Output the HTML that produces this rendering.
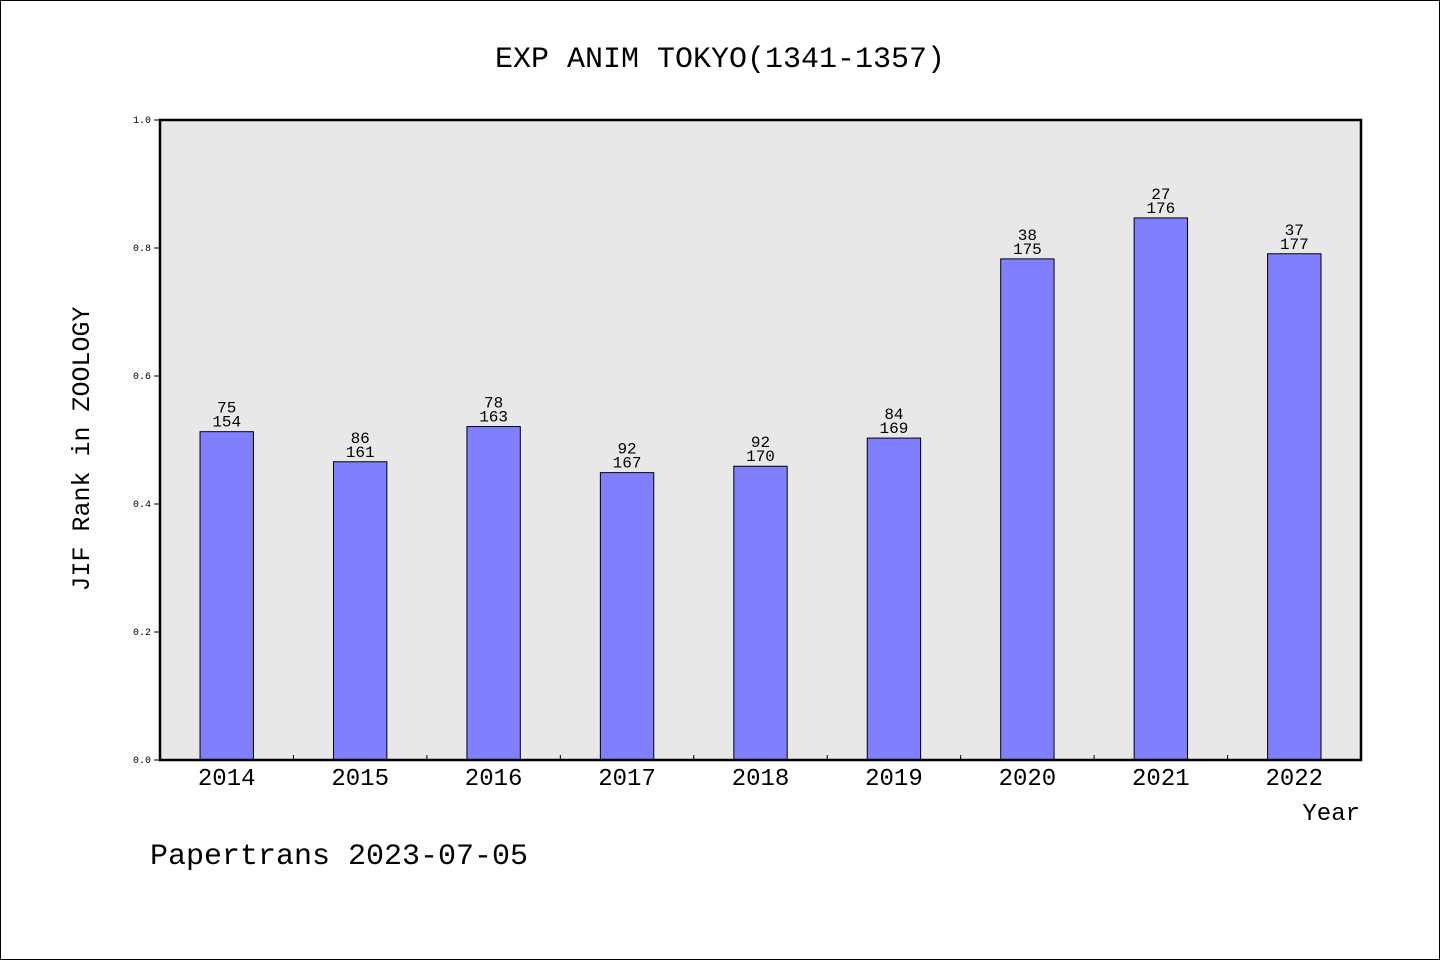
<!DOCTYPE html>
<html><head><meta charset="utf-8"><style>
html,body{margin:0;padding:0;background:#fff}
svg{display:block;font-family:"Liberation Mono","DejaVu Sans Mono",monospace}
</style></head><body>
<svg id="chart" width="1440" height="960" viewBox="0 0 1440 960" xmlns="http://www.w3.org/2000/svg">
<rect x="0.5" y="0.5" width="1439" height="959" fill="#fff" stroke="#000"/>
<text x="720" y="67" font-size="30" text-anchor="middle">EXP ANIM TOKYO(1341-1357)</text>
<rect x="160" y="120" width="1201" height="640" fill="#e8e8e8"/>
<g id="marks"></g>
<rect x="160" y="120" width="1201" height="640" fill="none" stroke="#000" stroke-width="2.5"/>
<text transform="translate(89,449) rotate(-90)" font-size="25" text-anchor="middle">JIF Rank in ZOOLOGY</text>
<text x="1360" y="820" font-size="24" text-anchor="end">Year</text>
<text x="150" y="864" font-size="30">Papertrans 2023-07-05</text>
</svg>
<script>
const categories = ["2014","2015","2016","2017","2018","2019","2020","2021","2022"];
const values = [0.513,0.466,0.521,0.449,0.459,0.503,0.783,0.847,0.791];
const ranks = [75,86,78,92,92,84,38,27,37];
const totals = [154,161,163,167,170,169,175,176,177];
const yTicks = [0.0,0.2,0.4,0.6,0.8,1.0];

const L=160,R=1361,T=120,B=760;
const band=(R-L)/categories.length;
const xc=i=>L+band*(i+0.5);
const y=v=>B-(v-0)/(1-0)*(B-T);
const NS="http://www.w3.org/2000/svg";
const g=document.getElementById('marks');
function mk(tag,attrs,txt){const e=document.createElementNS(NS,tag);for(const k in attrs)e.setAttribute(k,attrs[k]);if(txt!==undefined)e.textContent=txt;g.appendChild(e);return e;}

yTicks.forEach(t=>{
  const tk=mk('line',{x1:L-6,x2:L,y1:y(t),y2:y(t),stroke:'#000','stroke-width':1});
  
  
  const lb=mk('text',{x:L-9,y:y(t)+3,'font-size':10,'text-anchor':'end'},t.toFixed(1));
  
  
});
for(let i=1;i<categories.length;i++){
  const tk=mk('line',{x1:L+band*i,x2:L+band*i,y1:B-5,y2:B,stroke:'#000','stroke-width':1});
  
  
}
const bw=band*0.4;
categories.forEach((c,i)=>{
  const top=y(values[i]);
  const r=mk('rect',{x:xc(i)-bw/2,y:top,width:bw,height:B-top,fill:'#8080ff',stroke:'#000','stroke-width':1});
  
  
  const a=mk('text',{x:xc(i),y:top-19,'font-size':16,'text-anchor':'middle'},String(ranks[i]));
  
  
  const b=mk('text',{x:xc(i),y:top-5,'font-size':16,'text-anchor':'middle'},String(totals[i]));
  
  
  const xl=mk('text',{x:xc(i),y:785,'font-size':24,'text-anchor':'middle'},c);
  
  
});
</script>
</body></html>
